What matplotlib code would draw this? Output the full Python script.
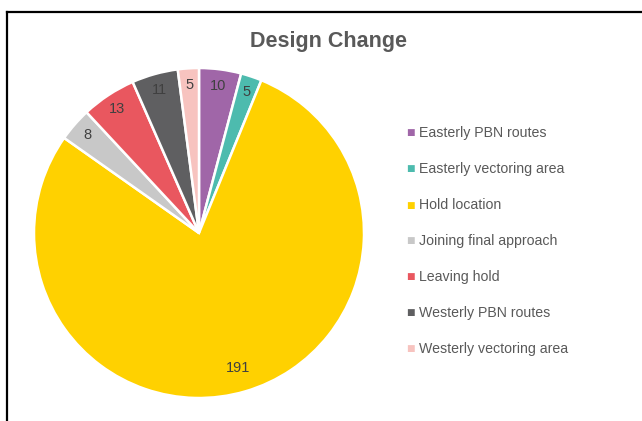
import matplotlib.pyplot as plt
from matplotlib.lines import Line2D

categories = [
    "Easterly PBN routes",
    "Easterly vectoring area",
    "Hold location",
    "Joining final approach",
    "Leaving hold",
    "Westerly PBN routes",
    "Westerly vectoring area",
]
counts = [10, 5, 191, 8, 13, 11, 5]
colors = ["#A066A8", "#4DBBAE", "#FFD100", "#C8C8C8", "#E9575F", "#5F5F61", "#F7C3BF"]

plt.rcParams["font.family"] = ["Liberation Sans Narrow", "Liberation Sans", "DejaVu Sans"]

W, H = 642, 421
fig = plt.figure(figsize=(W / 100, H / 100), dpi=100)
fig.patch.set_facecolor("white")

# pie area in pixels: centre (199, 233), radius 165
cx, cy, r = 199, 233, 165
ax = fig.add_axes([(cx - r) / W, 1 - (cy + r) / H, 2 * r / W, 2 * r / H])
wedges, texts = ax.pie(
    counts,
    colors=colors,
    startangle=90,
    counterclock=False,
    labels=[str(c) for c in counts],
    labeldistance=0.9,
    wedgeprops=dict(edgecolor="white", linewidth=1.8),
    textprops=dict(color="#404040", fontsize=10.5, ha="center", va="center"),
)
for t in texts:
    t.set_horizontalalignment("center")
# the big slice carries its label further in
x, y = texts[2].get_position()
texts[2].set_position((x * 0.85 / 0.9, y * 0.85 / 0.9))
ax.set_xlim(-1, 1)
ax.set_ylim(-1, 1)
ax.set_aspect("equal")

fig.text(329 / W, 1 - 42 / H, "Design Change", ha="center", va="center",
         fontsize=15.5, fontweight="bold", color="#595959")

# legend
leg_y0, leg_dy = 133, 36
for i, (name, col) in enumerate(zip(categories, colors)):
    yy = 1 - (leg_y0 + i * leg_dy) / H
    fig.text(410 / W, yy, "\u25A0", color=col, fontsize=6.5, ha="center", va="center",
             family="DejaVu Sans")
    fig.text(419 / W, yy, name, color="#595959", fontsize=10.2, ha="left", va="center")

# chart frame (top and left edges visible)
fig.add_artist(Line2D([6.5 / W, 1], [1 - 11.5 / H, 1 - 11.5 / H], color="black", lw=1.6))
fig.add_artist(Line2D([6.5 / W, 6.5 / W], [0, 1 - 11.5 / H], color="black", lw=1.6))

fig.savefig("out.png", dpi=100)
